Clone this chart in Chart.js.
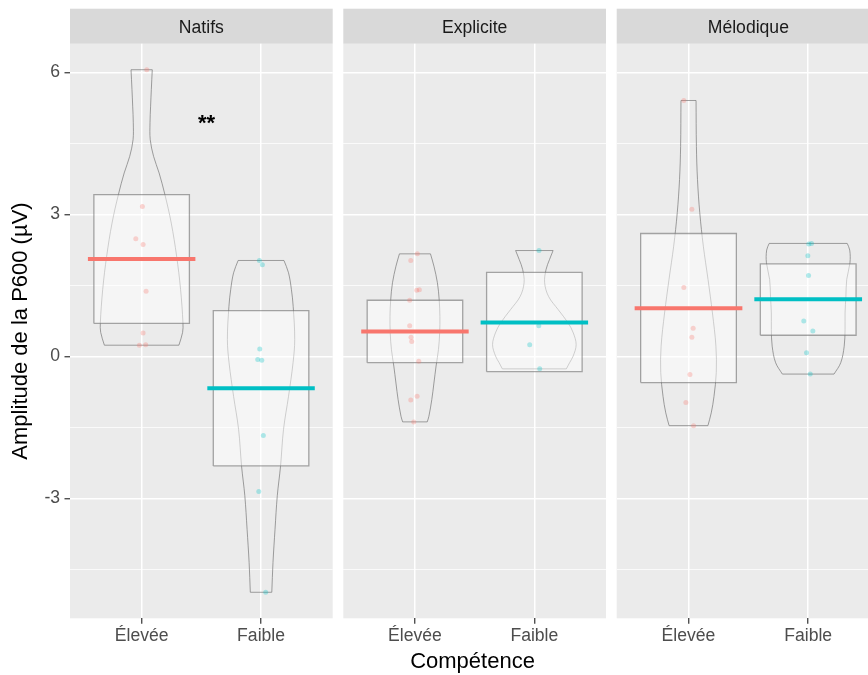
<!DOCTYPE html>
<html>
<head>
<meta charset="utf-8">
<script src="https://cdn.jsdelivr.net/npm/chart.js@4.4.1/dist/chart.umd.min.js"></script>
<style>
  body { margin: 0; background: #fff; width: 868px; height: 675px; overflow: hidden; position: relative; }
  .panel { position: absolute; top: 0; }
  #xtitle { position: absolute; left: 0; width: 945px; top: 649.7px; text-align: center;
            font: 22px/22px "Liberation Sans", Arial, sans-serif; color: #000; }
</style>
</head>
<body>
<div class="panel" style="left:0"><canvas id="natifs" width="338" height="675"></canvas></div>
<div class="panel" style="left:338px"><canvas id="explicite" width="273" height="675"></canvas></div>
<div class="panel" style="left:611px;width:274px"><canvas id="melodique" width="274" height="675"></canvas></div>
<div id="xtitle">Compétence</div>
<script>
const facets = ["Natifs", "Explicite", "Mélodique"];
const groups = ["Élevée", "Faible"];
const groupColors = ["#F8766D", "#00BFC4"];
const yTicks = [-4.5, -3, -1.5, 0, 1.5, 3, 4.5, 6];
const yMin = -5.53;
const yMax = 6.61;
const yTitle = "Amplitude de la P600 (µV)";
const starText = "**";
const starX = 1.544;
const starY = 4.79;

// amplitudes individuelles (µV) + jitter horizontal (unités de catégorie)
const natifsElevee = [6.06, 3.17, 2.49, 2.37, 1.38, 0.50, 0.24, 0.25];
const natifsEleveeJit = [0.043, 0.006, -0.049, 0.012, 0.037, 0.012, -0.019, 0.034];
const natifsFaible = [2.03, 1.94, 0.16, -0.06, -0.08, -1.67, -2.85, -4.98];
const natifsFaibleJit = [-0.014, 0.011, -0.011, -0.028, 0.006, 0.019, -0.019, 0.039];
const expliciteElevee = [2.17, 2.03, 1.40, 1.41, 1.19, 0.65, 0.41, 0.32, -0.10, -0.84, -0.92, -1.38];
const expliciteEleveeJit = [0.02, -0.035, 0.015, 0.037, -0.044, -0.044, -0.033, -0.027, 0.032, 0.018, -0.035, -0.01];
const expliciteFaible = [2.24, 0.65, 0.25, -0.26];
const expliciteFaibleJit = [0.039, 0.037, -0.039, 0.045];
const melodiqueElevee = [5.41, 3.11, 1.46, 0.60, 0.41, -0.38, -0.97, -1.46];
const melodiqueEleveeJit = [-0.039, 0.028, -0.039, 0.039, 0.028, 0.012, -0.022, 0.042];
const melodiqueFaible = [2.39, 2.38, 2.13, 1.71, 0.75, 0.54, 0.08, -0.37];
const melodiqueFaibleJit = [0.028, 0.005, -0.003, 0.003, -0.037, 0.039, -0.014, 0.017];

// moyennes et bornes des boites [Élevée, Faible]
const natifsMeans = [2.06, -0.67];
const natifsBoxLow = [0.70, -2.31];
const natifsBoxHigh = [3.42, 0.97];
const expliciteMeans = [0.53, 0.72];
const expliciteBoxLow = [-0.13, -0.32];
const expliciteBoxHigh = [1.19, 1.78];
const melodiqueMeans = [1.02, 1.21];
const melodiqueBoxLow = [-0.55, 0.45];
const melodiqueBoxHigh = [2.60, 1.96];

// profils des violons : niveau (µV) et demi-largeur (unités de catégorie)
const natifsEleveeVy = [0.24, 0.51, 0.71, 1.42, 2.12, 2.82, 3.42, 3.88, 4.23, 4.58, 4.94, 5.29, 5.64, 6.06];
const natifsEleveeVw = [0.312, 0.343, 0.346, 0.326, 0.293, 0.248, 0.195, 0.146, 0.100, 0.072, 0.070, 0.075, 0.081, 0.089];
const natifsFaibleVy = [-4.98, -4.35, -3.65, -2.94, -2.32, -1.54, -0.84, -0.13, 0.36, 1.06, 1.42, 1.77, 2.03];
const natifsFaibleVw = [0.090, 0.100, 0.117, 0.136, 0.163, 0.188, 0.230, 0.268, 0.282, 0.269, 0.254, 0.230, 0.192];
const expliciteEleveeVy = [-1.38, -1.26, -0.91, -0.56, -0.20, 0.15, 0.50, 0.85, 1.20, 1.56, 1.91, 2.17];
const expliciteEleveeVw = [0.103, 0.117, 0.141, 0.159, 0.177, 0.197, 0.207, 0.209, 0.203, 0.188, 0.159, 0.130];
const expliciteFaibleVy = [-0.26, -0.13, 0.01, 0.25, 0.50, 0.71, 0.99, 1.27, 1.56, 1.84, 2.05, 2.24];
const expliciteFaibleVw = [0.268, 0.295, 0.325, 0.350, 0.326, 0.283, 0.200, 0.119, 0.086, 0.098, 0.127, 0.157];
const melodiqueEleveeVy = [-1.46, -1.19, -0.84, -0.34, 0.22, 0.92, 1.63, 2.33, 3.04, 3.74, 4.44, 5.41];
const melodiqueEleveeVw = [0.162, 0.190, 0.213, 0.232, 0.229, 0.200, 0.163, 0.124, 0.094, 0.075, 0.066, 0.063];
const melodiqueFaibleVy = [-0.37, -0.13, 0.22, 0.57, 0.92, 1.27, 1.63, 1.98, 2.25, 2.39];
const melodiqueFaibleVw = [0.216, 0.272, 0.301, 0.308, 0.308, 0.315, 0.322, 0.349, 0.347, 0.326];

Chart.defaults.font.family = '"Liberation Sans", Arial, sans-serif';

function fade(hex, a) {
  const n = parseInt(hex.slice(1), 16);
  return `rgba(${n >> 16},${(n >> 8) & 255},${n & 255},${a})`;
}

// le dernier panneau dépasse du cadre : il est rogné à 868 px comme l'original
const panels = [
  { id: "natifs", label: facets[0], pad: { left: 0, right: 5.3 }, axis: true,
    points: [natifsElevee, natifsFaible], jitter: [natifsEleveeJit, natifsFaibleJit],
    means: natifsMeans, boxLow: natifsBoxLow, boxHigh: natifsBoxHigh,
    vy: [natifsEleveeVy, natifsFaibleVy], vw: [natifsEleveeVw, natifsFaibleVw], star: true },
  { id: "explicite", label: facets[1], pad: { left: 5.3, right: 5 }, axis: false,
    points: [expliciteElevee, expliciteFaible], jitter: [expliciteEleveeJit, expliciteFaibleJit],
    means: expliciteMeans, boxLow: expliciteBoxLow, boxHigh: expliciteBoxHigh,
    vy: [expliciteEleveeVy, expliciteFaibleVy], vw: [expliciteEleveeVw, expliciteFaibleVw] },
  { id: "melodique", label: facets[2], pad: { left: 5.7, right: 5 }, axis: false,
    points: [melodiqueElevee, melodiqueFaible], jitter: [melodiqueEleveeJit, melodiqueFaibleJit],
    means: melodiqueMeans, boxLow: melodiqueBoxLow, boxHigh: melodiqueBoxHigh,
    vy: [melodiqueEleveeVy, melodiqueFaibleVy], vw: [melodiqueEleveeVw, melodiqueFaibleVw] },
];

function buildDatasets(p) {
  const sets = [];
  groups.forEach((g, i) => {
    const c = i + 1;
    const vy = p.vy[i], vw = p.vw[i], n = vy.length - 1;
    const violin = { borderColor: "rgba(110,110,110,0.65)", borderWidth: 1, pointRadius: 0, fill: false, order: 4 };
    sets.push({ ...violin, tension: 0.35, data: vy.map((y, k) => ({ x: c + vw[k], y })) });
    sets.push({ ...violin, tension: 0.35, data: vy.map((y, k) => ({ x: c - vw[k], y })) });
    sets.push({ ...violin, tension: 0, spanGaps: false, data: [
      { x: c - vw[0], y: vy[0] }, { x: c + vw[0], y: vy[0] }, { x: NaN, y: NaN },
      { x: c - vw[n], y: vy[n] }, { x: c + vw[n], y: vy[n] } ] });
    const lo = p.boxLow[i], hi = p.boxHigh[i];
    sets.push({ order: 3, tension: 0, pointRadius: 0, borderWidth: 1.3,
      borderColor: "rgba(110,110,110,0.6)", backgroundColor: "rgba(255,255,255,0.5)", fill: "shape",
      data: [{ x: c - 0.4, y: lo }, { x: c + 0.4, y: lo }, { x: c + 0.4, y: hi }, { x: c - 0.4, y: hi }, { x: c - 0.4, y: lo }] });
    sets.push({ order: 2, showLine: false, pointRadius: 2.5, pointBorderWidth: 0,
      pointBorderColor: "rgba(0,0,0,0)", pointBackgroundColor: fade(groupColors[i], 0.3),
      data: p.points[i].map((y, k) => ({ x: c + p.jitter[i][k], y })) });
    sets.push({ order: 1, borderColor: groupColors[i], borderWidth: 4, borderCapStyle: "butt", pointRadius: 0,
      data: [{ x: c - 0.45, y: p.means[i] }, { x: c + 0.45, y: p.means[i] }] });
  });
  return sets;
}

const facetPlugin = {
  id: "facet",
  beforeDraw(chart, args, opts) {
    const { ctx, chartArea: a } = chart;
    ctx.save();
    ctx.fillStyle = "#EBEBEB";
    ctx.fillRect(a.left, a.top, a.right - a.left, a.bottom - a.top);
    ctx.fillStyle = "#D9D9D9";
    ctx.fillRect(a.left, 8.7, a.right - a.left, a.top - 8.7);
    ctx.fillStyle = "#1A1A1A";
    ctx.font = '17.6px "Liberation Sans", Arial, sans-serif';
    ctx.textAlign = "center";
    ctx.textBaseline = "alphabetic";
    ctx.fillText(opts.label, chart.scales.x.getPixelForValue(1.5), 33.3);
    ctx.restore();
  },
  afterDatasetsDraw(chart, args, opts) {
    if (!opts.star) return;
    const { ctx, scales } = chart;
    ctx.save();
    ctx.fillStyle = "#000";
    ctx.font = 'bold 22px "Liberation Sans", Arial, sans-serif';
    ctx.textAlign = "center";
    ctx.textBaseline = "alphabetic";
    ctx.fillText(starText, scales.x.getPixelForValue(starX), scales.y.getPixelForValue(starY));
    ctx.restore();
  }
};

panels.forEach(p => {
  new Chart(document.getElementById(p.id), {
    type: "line",
    data: { datasets: buildDatasets(p) },
    plugins: [facetPlugin],
    options: {
      responsive: false,
      animation: false,
      events: [],
      layout: { padding: { top: 43.7, bottom: 0, left: p.pad.left, right: p.pad.right } },
      plugins: {
        legend: { display: false },
        tooltip: { enabled: false },
        facet: { label: p.label, star: !!p.star },
      },
      scales: {
        x: {
          type: "linear",
          min: 0.4,
          max: 2.6,
          afterBuildTicks: s => { s.ticks = [{ value: 1 }, { value: 2 }]; },
          afterFit: s => { s.height = 56.7; },
          border: { display: false },
          grid: { color: "#FFFFFF", lineWidth: 1.5, tickColor: "#333333", tickLength: 5.5, tickWidth: 1.2 },
          ticks: { color: "#4D4D4D", font: { size: 17.6 }, padding: 2.2, maxRotation: 0, autoSkip: false,
                   callback: v => groups[v - 1] },
        },
        y: {
          type: "linear",
          min: yMin,
          max: yMax,
          afterBuildTicks: s => { s.ticks = yTicks.map(v => ({ value: v })); },
          afterFit: s => { s.width = p.axis ? 70 : 0; },
          border: { display: false },
          grid: {
            color: "#FFFFFF",
            lineWidth: c => (c.tick && c.tick.value % 3 === 0 ? 1.5 : 0.75),
            drawTicks: p.axis,
            tickLength: 5.5,
            tickWidth: 1.2,
            tickColor: c => (c.tick && c.tick.value % 3 === 0 ? "#333333" : "rgba(0,0,0,0)"),
          },
          ticks: { display: p.axis, color: "#4D4D4D", font: { size: 17.6 }, padding: 4.4,
                   callback: v => (v % 3 === 0 ? String(v) : "") },
          title: { display: p.axis, text: yTitle, color: "#000", font: { size: 22 }, padding: { top: 8, bottom: 0 } },
        },
      },
    },
  });
});
</script>
</body>
</html>
